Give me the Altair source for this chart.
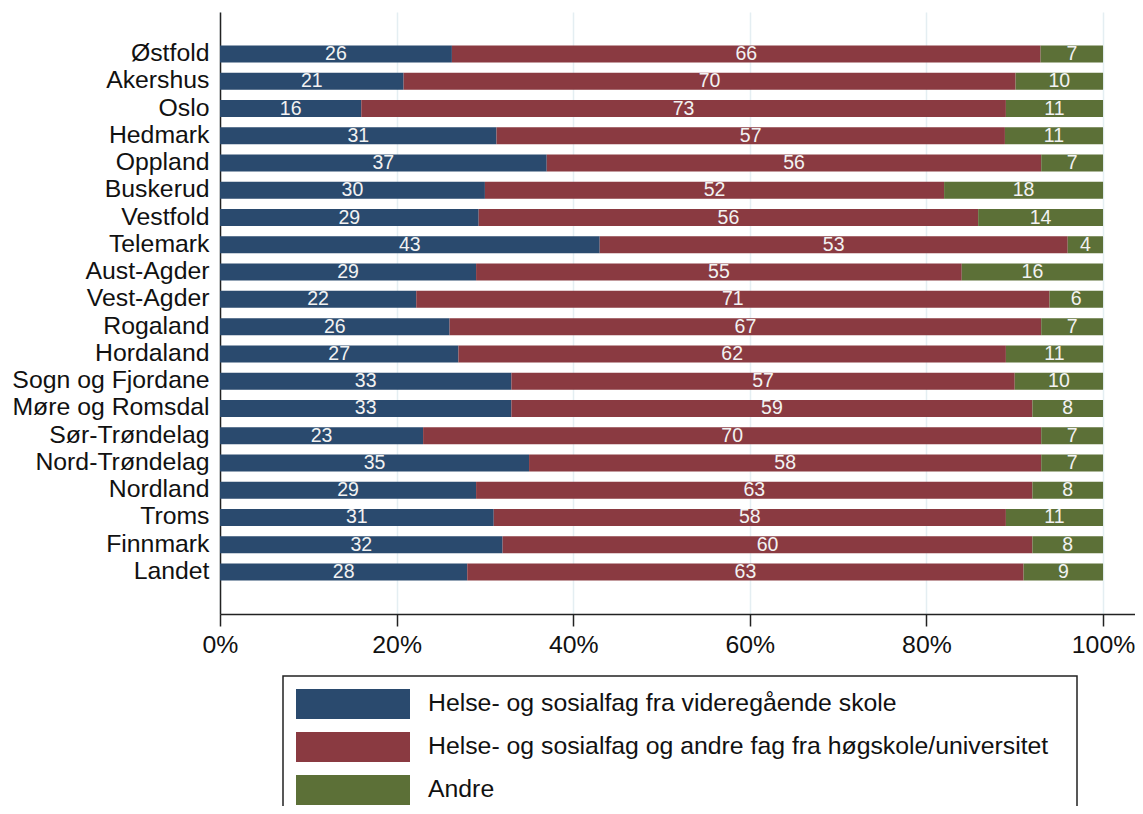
import altair as alt
import pandas as pd

regions = ["Østfold", "Akershus", "Oslo", "Hedmark", "Oppland", "Buskerud", "Vestfold",
           "Telemark", "Aust-Agder", "Vest-Agder", "Rogaland", "Hordaland",
           "Sogn og Fjordane", "Møre og Romsdal", "Sør-Trøndelag", "Nord-Trøndelag",
           "Nordland", "Troms", "Finnmark", "Landet"]
vgs = [26, 21, 16, 31, 37, 30, 29, 43, 29, 22, 26, 27, 33, 33, 23, 35, 29, 31, 32, 28]
hoy = [66, 70, 73, 57, 56, 52, 56, 53, 55, 71, 67, 62, 57, 59, 70, 58, 63, 58, 60, 63]
andre = [7, 10, 11, 11, 7, 18, 14, 4, 16, 6, 7, 11, 10, 8, 7, 7, 8, 11, 8, 9]

categories = ["Helse- og sosialfag fra videregående skole",
              "Helse- og sosialfag og andre fag fra høgskole/universitet",
              "Andre"]
colors = ["#2A4A6E", "#8A3A41", "#5C7037"]
tick_values = [0, 0.2, 0.4, 0.6, 0.8, 1.0]

rows = []
for i, r in enumerate(regions):
    for k, vals in enumerate([vgs, hoy, andre]):
        rows.append({"region": r, "cat": categories[k], "order": k, "value": vals[i]})
df = pd.DataFrame(rows)

# blank slots above and below the bars (empty space inside the plot region)
y_domain = [" "] + regions + ["  "]

FONT = "Liberation Sans"
FS = 24.8

base = alt.Chart(df).transform_stack(
    stack="value", as_=["x0", "x1"], groupby=["region"], offset="normalize",
    sort=[alt.SortField("order", order="ascending")]
).transform_calculate(xm="(datum.x0 + datum.x1) / 2")

xscale = alt.Scale(domain=[0, 1.0362], nice=False, zero=False)
yscale = alt.Scale(domain=y_domain, paddingInner=0.376, paddingOuter=0.228)

bars = base.mark_bar().encode(
    x=alt.X("x0:Q", scale=xscale, title=None,
            axis=alt.Axis(values=tick_values, format=".0%", labelFontSize=FS,
                          labelColor="#111111", labelFont=FONT, labelPadding=6,
                          tickSize=12, tickColor="#222222", tickWidth=1.5,
                          domainColor="#222222", domainWidth=1.5,
                          grid=True, gridColor="#E4EEF2", gridWidth=1.5,
                          labelFlush=False)),
    x2="x1:Q",
    y=alt.Y("region:N", scale=yscale, title=None,
            axis=alt.Axis(ticks=False, labelFontSize=FS, labelPadding=11, labelLimit=400,
                          labelColor="#111111", domainColor="#222222", domainWidth=1.5,
                          labelFont=FONT)),
    color=alt.Color("cat:N", scale=alt.Scale(domain=categories, range=colors),
                    legend=alt.Legend(title=None, orient="none", legendX=63, legendY=664,
                                      direction="vertical",
                                      symbolType="M-3.8,-1H3.8V1H-3.8Z M47.4,0",
                                      symbolSize=900,
                                      symbolOffset=42, labelOffset=60,
                                      symbolStrokeWidth=0, symbolOpacity=1,
                                      labelFontSize=FS, labelFont=FONT, labelColor="#111111",
                                      labelLimit=1000, rowPadding=13, padding=13,
                                      strokeColor="#222222")),
)

labels = base.mark_text(color="#F2F2F2", fontSize=19.5, font=FONT).encode(
    x=alt.X("xm:Q", scale=xscale),
    y=alt.Y("region:N", scale=yscale),
    text=alt.Text("value:Q"),
)

chart = alt.layer(bars, labels).properties(
    width=915, height=602,
    autosize=alt.AutoSizeParams(type="none"),
    padding={"left": 212, "top": 4, "right": 0, "bottom": 192},
    background="white",
).configure_view(stroke=None).configure_legend(strokeWidth=1.5)

chart.save("out.html", embed_options={"renderer": "svg", "actions": False})
